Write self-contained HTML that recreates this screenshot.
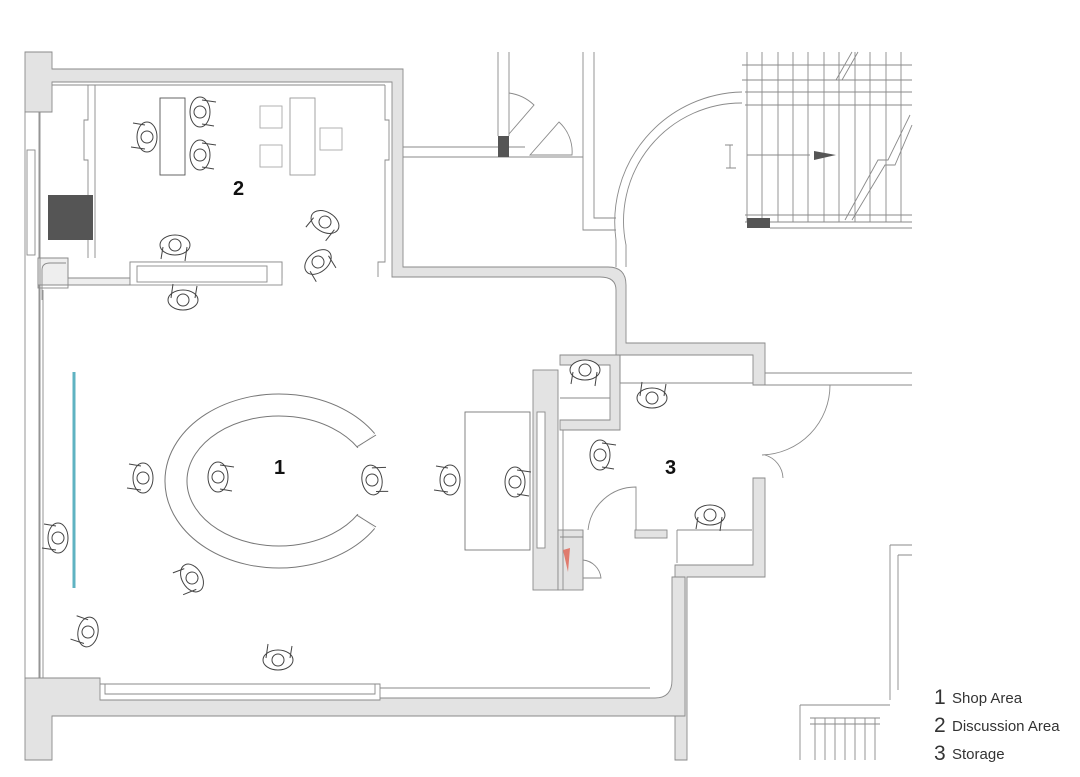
<!DOCTYPE html>
<html><head><meta charset="utf-8"><style>
html,body{margin:0;padding:0;background:#fff;}
svg{display:block;}
</style></head><body>
<svg width="1080" height="777" viewBox="0 0 1080 777" xmlns="http://www.w3.org/2000/svg">
<defs>
<g id="p">
<ellipse cx="0" cy="0" rx="15" ry="10" fill="#fff" stroke="#444" stroke-width="1"/>
<path d="M-12,2 L-14,14 M12,2 L10,16" stroke="#444" stroke-width="1" fill="none"/>
<circle cx="0" cy="0" r="6" fill="#fff" stroke="#444" stroke-width="1"/>
</g>
</defs>
<rect width="1080" height="777" fill="#fff"/>
<g fill="#e3e3e3" stroke="#8a8a8a" stroke-width="0.9">
<path d="M25,52 L52,52 L52,69 L403,69 L403,267 L608,267 Q626,267 626,285 L626,343 L765,343 L765,385 L753,385 L753,355 L616,355 L616,290 Q616,277 600,277 L392,277 L392,82 L52,82 L52,112 L25,112 Z"/>
<path d="M753,478 L765,478 L765,577 L687,577 L687,760 L675,760 L675,565 L753,565 Z"/>
<path d="M25,678 L100,678 L100,700 L380,700 L380,698 L655,698 Q672,698 672,680 L672,577 L685,577 L685,716 L52,716 L52,760 L25,760 Z"/>
<path d="M560,355 L620,355 L620,430 L560,430 L560,420 L610,420 L610,365 L560,365 Z"/>
<rect x="533" y="370" width="25" height="220"/>
<rect x="558" y="530" width="25" height="60"/>
<rect x="635" y="530" width="32" height="8"/>
<rect x="25" y="112" width="14" height="566" fill="#fff"/>
<path d="M38,258 L68,258 L68,278 L282,278 L282,262 L130,262 L130,285 L38,285 Z" fill="#eee"/>
</g>
<g fill="none" stroke="#8a8a8a" stroke-width="0.9">
<path d="M100,684 L380,684 L380,698 M105,684 L105,694 L375,694 L375,684 M380,688 L650,688"/>
<rect x="130" y="262" width="152" height="23" fill="#fff"/>
<rect x="137" y="266" width="130" height="16"/>
<rect x="38" y="258" width="30" height="30"/>
<path d="M42,300 L42,270 Q42,263 50,263 L66,263"/>
<line x1="40" y1="112" x2="40" y2="678"/><line x1="43" y1="290" x2="43" y2="678"/>
<line x1="52" y1="85" x2="385" y2="85"/>
<path d="M88,85 L88,120 L84,120 L84,160 L88,160 L88,258 M95,85 L95,258"/>
<path d="M385,85 L385,120 L389,120 L389,160 L385,160 L385,262 L378,262 L378,277"/>
<rect x="27" y="150" width="8" height="105" fill="#fff"/>
<path d="M403,147 L498,147 M403,157 L583,157 M509,147 L525,147 M498,52 L498,136 M509,52 L509,136"/>
<path d="M509,93 A45,45 0 0 1 534,105 L509,134"/>
<path d="M530,155 L559,122 A40,40 0 0 1 572,155 Z"/>
<path d="M583,52 L583,230 L616,230 M594,52 L594,218 L616,218"/>
<path d="M616,267 L616,240 A130,130 0 0 1 742,92 M626,267 L626,245 A118,118 0 0 1 742,103"/>
<path d="M742,65 L912,65 M742,80 L912,80 M745,92 L912,92 M745,105 L912,105 M745,215 L912,215 M745,222 L912,222 M770,228 L912,228"/>
<path d="M747,52V222M762,52V222M778,52V222M793,52V222M808,52V222M824,52V222M839,52V222M855,52V222M870,52V222M886,52V222M901,52V222"/>
<path d="M836,80 L852,52 M842,80 L858,52 M845,220 L878,160 L888,160 L910,115 M852,220 L885,165 L895,165 L912,125"/>
<path d="M747,155 L810,155 M725,145 L733,145 M730,145 L730,168 M726,168 L736,168"/>
<path d="M620,383 L753,383 M620,355 L620,383 M560,398 L610,398 M563,430 L563,590 M583,530 L583,590 M560,537 L583,537"/>
<path d="M760,385 L830,385 A70,70 0 0 1 762,455"/>
<path d="M765,455 A25,25 0 0 1 783,478"/>
<path d="M588,530 A48,48 0 0 1 636,487 L636,530"/>
<path d="M583,560 A20,20 0 0 1 601,578 L583,578"/>
<path d="M677,530 L752,530 M677,530 L677,563 M765,373 L912,373 M765,385 L912,385"/>
<rect x="537" y="412" width="8" height="136" fill="#fff"/>
<rect x="465" y="412" width="65" height="138" fill="#fff" stroke="#777"/>
<rect x="160" y="98" width="25" height="77" stroke="#555"/>
<rect x="290" y="98" width="25" height="77" stroke="#999"/>
<rect x="260" y="106" width="22" height="22" stroke="#aaa"/>
<rect x="260" y="145" width="22" height="22" stroke="#aaa"/>
<rect x="320" y="128" width="22" height="22" stroke="#aaa"/>
<path d="M890,545 L912,545 M890,545 L890,700 M898,555 L912,555 M898,555 L898,690 M800,705 L890,705 M800,705 L800,760"/>
<path d="M810,718 L880,718 M810,724 L880,724 M815,718V760M825,718V760M835,718V760M845,718V760M855,718V760M865,718V760M875,718V760"/>
</g>
<rect x="48" y="195" width="45" height="45" fill="#555"/>
<rect x="498" y="136" width="11" height="21" fill="#555"/>
<rect x="747" y="218" width="23" height="10" fill="#555"/>
<polygon points="814,151 814,160 836,155" fill="#555"/>
<polygon points="563,550 570,548 568,572" fill="#e07b6e"/>
<line x1="74" y1="372" x2="74" y2="588" stroke="#5fb3c2" stroke-width="3"/>
<path d="M366.3,440.7 A103,76 0 1 0 366.3,521.3" fill="none" stroke="#777" stroke-width="23"/>
<path d="M366.3,440.7 A103,76 0 1 0 366.3,521.3" fill="none" stroke="#fff" stroke-width="21"/>
<path d="M376,435 L356.6,447 M376,527 L356.6,515" stroke="#777" stroke-width="1" fill="none"/>
<use href="#p" transform="translate(175,245)"/>
<use href="#p" transform="translate(183,300) rotate(180)"/>
<use href="#p" transform="translate(325,222) rotate(30)"/>
<use href="#p" transform="translate(318,262) rotate(-40)"/>
<use href="#p" transform="translate(200,112) rotate(-90)"/>
<use href="#p" transform="translate(200,155) rotate(-90)"/>
<use href="#p" transform="translate(147,137) rotate(90)"/>
<use href="#p" transform="translate(143,478) rotate(90)"/>
<use href="#p" transform="translate(218,477) rotate(-90)"/>
<use href="#p" transform="translate(372,480) rotate(-100)"/>
<use href="#p" transform="translate(450,480) rotate(90)"/>
<use href="#p" transform="translate(515,482) rotate(-90)"/>
<use href="#p" transform="translate(58,538) rotate(90)"/>
<use href="#p" transform="translate(192,578) rotate(60)"/>
<use href="#p" transform="translate(88,632) rotate(100)"/>
<use href="#p" transform="translate(278,660) rotate(180)"/>
<use href="#p" transform="translate(585,370)"/>
<use href="#p" transform="translate(652,398) rotate(180)"/>
<use href="#p" transform="translate(600,455) rotate(-90)"/>
<use href="#p" transform="translate(710,515)"/>
<g font-family="Liberation Sans, sans-serif" font-weight="bold" font-size="20" fill="#111">
<text x="233" y="195">2</text>
<text x="274" y="474">1</text>
<text x="665" y="474">3</text>
</g>
<g font-family="Liberation Sans, sans-serif" fill="#333">
<text x="934" y="704" font-size="21">1</text><text x="952" y="703" font-size="15">Shop Area</text>
<text x="934" y="732" font-size="21">2</text><text x="952" y="731" font-size="15">Discussion Area</text>
<text x="934" y="760" font-size="21">3</text><text x="952" y="759" font-size="15">Storage</text>
</g>
</svg>
</body></html>
